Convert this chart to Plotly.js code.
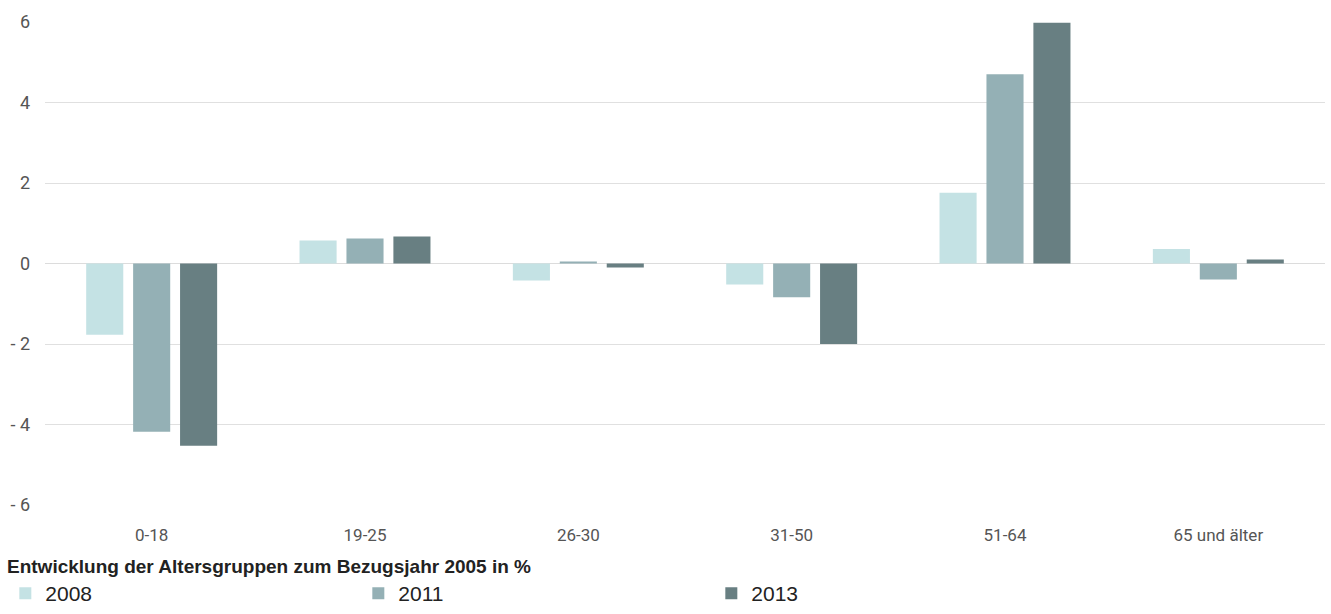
<!DOCTYPE html>
<html>
<head>
<meta charset="utf-8">
<script src="https://cdn.plot.ly/plotly-3.0.1.min.js"></script>
<style>html,body{margin:0;padding:0;background:#fff;}#chart{width:1331px;height:614px;}</style>
</head>
<body>
<div id="chart"></div>
<script>
const categories = ['0-18', '19-25', '26-30', '31-50', '51-64', '65 und älter'];
const seriesNames = ['2008', '2011', '2013'];
const values2008 = [-1.77, 0.57, -0.42, -0.52, 1.76, 0.36];
const values2011 = [-4.18, 0.62, 0.05, -0.84, 4.70, -0.40];
const values2013 = [-4.53, 0.67, -0.10, -2.00, 5.98, 0.10];
const yTickVals = [-6, -4, -2, 0, 2, 4, 6];
const yTickText = ['- 6', '- 4', '- 2', '0', '2', '4', '6'];
const chartTitle = 'Entwicklung der Altersgruppen zum Bezugsjahr 2005 in %';

const colors = ['#c4e2e4', '#94b0b5', '#687f82'];
const allValues = [values2008, values2011, values2013];

const traces = allValues.map((vals, i) => ({
  type: 'bar',
  name: seriesNames[i],
  x: categories,
  y: vals,
  marker: {color: colors[i], line: {width: 0}},
  hoverinfo: 'x+y+name'
}));

const layout = {
  width: 1331,
  height: 614,
  margin: {l: 45, r: 6, t: 22, b: 109},
  paper_bgcolor: '#ffffff',
  plot_bgcolor: '#ffffff',
  font: {family: 'Roboto, "Liberation Sans", sans-serif', size: 17, color: '#555555'},
  barmode: 'group',
  bargap: 0.34,
  bargroupgap: 0.21,
  xaxis: {
    type: 'category',
    showgrid: false,
    zeroline: false,
    showline: false,
    ticks: '',
    ticklabelstandoff: 18,
    tickfont: {size: 17, color: '#555555'}
  },
  yaxis: {
    range: [-6, 6],
    tickvals: yTickVals,
    ticktext: yTickText,
    showgrid: true,
    gridcolor: '#e0e0e0',
    gridwidth: 1,
    zeroline: true,
    zerolinecolor: '#dcdcdc',
    zerolinewidth: 1,
    showline: false,
    ticks: '',
    ticklabelstandoff: 14,
    tickfont: {size: 18, color: '#555555'}
  },
  showlegend: true,
  legend: {
    orientation: 'h',
    xref: 'container',
    yref: 'container',
    x: 0.004,
    xanchor: 'left',
    y: -0.013,
    yanchor: 'bottom',
    traceorder: 'normal',
    entrywidth: 308,
    entrywidthmode: 'pixels',
    itemclick: false,
    font: {family: '"Liberation Sans", Arial, sans-serif', size: 21, color: '#222222'},
    bgcolor: 'rgba(0,0,0,0)'
  },
  annotations: [{
    text: '<b>' + chartTitle + '</b>',
    xref: 'paper',
    yref: 'paper',
    x: -0.031,
    y: -0.128,
    xanchor: 'left',
    yanchor: 'middle',
    showarrow: false,
    font: {family: '"Liberation Sans", Arial, sans-serif', size: 19, color: '#222222'}
  }]
};

Plotly.newPlot('chart', traces, layout, {displayModeBar: false, staticPlot: true});
</script>
</body>
</html>
